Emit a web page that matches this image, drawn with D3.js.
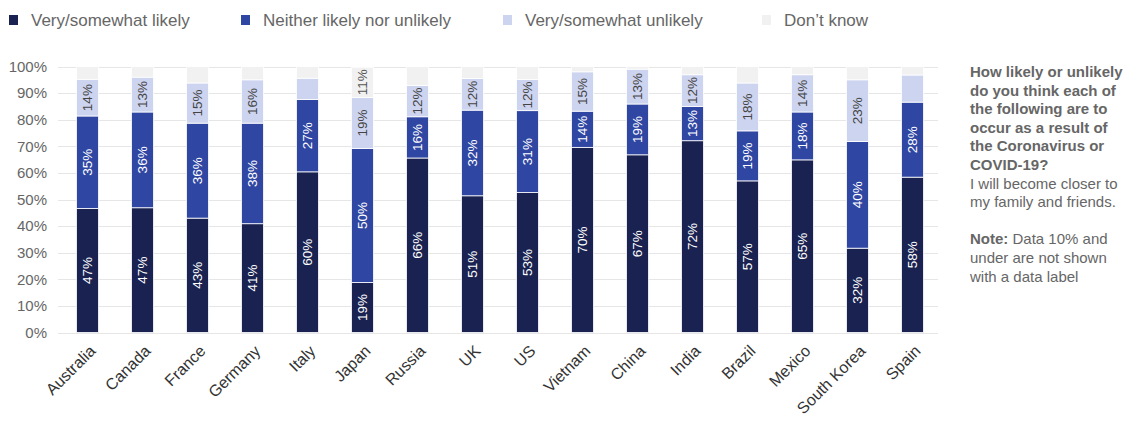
<!DOCTYPE html>
<html>
<head>
<meta charset="utf-8">
<script src="https://cdn.jsdelivr.net/npm/d3@7"></script>
<style>
  body { margin: 0; background: #fff; font-family: "Liberation Sans", Arial, sans-serif; }
  .grid line { stroke: #e6e6e6; }
  .note { fill: #666; font-size: 15px; }
</style>
</head>
<body>
<div class="chart-wrapper"></div>
<script>
var width = 1125, height = 421;

var countries = ["Australia", "Canada", "France", "Germany", "Italy", "Japan", "Russia", "UK",
  "US", "Vietnam", "China", "India", "Brazil", "Mexico", "South Korea", "Spain"];

var seriesNames = ["Very/somewhat likely", "Neither likely nor unlikely", "Very/somewhat unlikely", "Don\u2019t know"];

// values, % of respondents
var likely   = [46.6, 46.9, 43.0, 40.9, 60.4, 18.8, 65.6, 51.4, 52.6, 69.6, 66.8, 72.1, 57.0, 64.9, 31.7, 58.4];
var neither  = [34.8, 36.0, 35.7, 37.8, 27.2, 50.4, 15.5, 32.2, 30.8, 13.6, 19.1, 12.9, 18.8, 18.0, 40.1, 28.2];
var unlikely = [13.8, 13.1, 15.1, 16.3,  8.0, 19.2, 11.8, 11.9, 11.7, 14.8, 13.1, 11.9, 18.0, 14.0, 23.2, 10.2];
var dontKnow = [ 4.8,  4.0,  6.2,  5.0,  4.4, 11.3,  7.1,  4.5,  4.9,  2.0,  1.0,  3.1,  6.2,  3.1,  5.0,  3.2];

var yTicks = [0, 10, 20, 30, 40, 50, 60, 70, 80, 90, 100];

var colors = ["#1a2251", "#2f46a3", "#cdd4f0", "#f1f1f1"];
var labelColors = ["#fff", "#fff", "#444", "#555"];

var rows = countries.map(function (c, i) {
  return { country: c, s0: likely[i], s1: neither[i], s2: unlikely[i], s3: dontKnow[i] };
});

var stack = d3.stack().keys(["s0", "s1", "s2", "s3"]);
var layers = stack(rows);

var svg = d3.select(".chart-wrapper").append("svg")
  .attr("width", width)
  .attr("height", height);

var x = d3.scaleBand()
  .domain(countries)
  .range([60, 940])
  .paddingInner(0.6)
  .paddingOuter(0.3);

var y = d3.scaleLinear()
  .domain([0, 100])
  .range([332.5, 66.5]);

// gridlines
svg.append("g")
  .attr("class", "grid")
  .selectAll("line")
  .data(yTicks)
  .join("line")
  .attr("x1", 58)
  .attr("x2", 938)
  .attr("y1", function (d) { return Math.round(y(d)) + 0.5; })
  .attr("y2", function (d) { return Math.round(y(d)) + 0.5; });

// y axis labels
svg.append("g")
  .selectAll("text")
  .data(yTicks)
  .join("text")
  .attr("x", 47)
  .attr("y", function (d) { return y(d); })
  .attr("dy", "0.35em")
  .attr("text-anchor", "end")
  .attr("fill", "#666")
  .style("font-size", "15px")
  .text(function (d) { return d + "%"; });

// bars
var layer = svg.append("g")
  .selectAll("g")
  .data(layers)
  .join("g")
  .attr("fill", function (d, i) { return colors[i]; });

layer.selectAll("rect")
  .data(function (d) { return d; })
  .join("rect")
  .attr("x", function (d) { return x(d.data.country); })
  .attr("width", x.bandwidth())
  .attr("y", function (d) { return y(d[1]); })
  .attr("height", function (d) { return y(d[0]) - y(d[1]); })
  .attr("stroke", "#fff")
  .attr("stroke-width", 0.8);

// data labels, only above 10%
layers.forEach(function (l, i) {
  svg.append("g")
    .selectAll("text")
    .data(l.filter(function (d) { return Math.round(d[1] - d[0]) > 10; }))
    .join("text")
    .attr("transform", function (d) {
      var cx = x(d.data.country) + x.bandwidth() / 2;
      var cy = y((d[0] + d[1]) / 2);
      return "translate(" + cx + "," + cy + ") rotate(-90)";
    })
    .attr("text-anchor", "middle")
    .attr("dy", "0.35em")
    .attr("fill", labelColors[i])
    .style("font-size", "13.5px")
    .text(function (d) { return Math.round(d[1] - d[0]) + "%"; });
});

// x labels
svg.append("g")
  .selectAll("text")
  .data(countries)
  .join("text")
  .attr("transform", function (d) {
    return "translate(" + (x(d) + x.bandwidth() / 2 + 9) + ",352) rotate(-45)";
  })
  .attr("text-anchor", "end")
  .attr("fill", "#333")
  .style("font-size", "16px")
  .text(function (d) { return d; });

// legend
var legendX = [13, 245, 507, 766];
var legend = svg.append("g")
  .selectAll("g")
  .data(seriesNames)
  .join("g")
  .attr("transform", function (d, i) { return "translate(" + legendX[i] + ",20)"; });

legend.append("rect")
  .attr("x", -4)
  .attr("y", -5)
  .attr("width", 9)
  .attr("height", 10)
  .attr("fill", function (d, i) { return colors[i]; });

legend.append("text")
  .attr("x", 18)
  .attr("dy", "0.35em")
  .attr("fill", "#666")
  .style("font-size", "17px")
  .text(function (d) { return d; });

// side note
var noteLines = [
  { t: "How likely or unlikely", b: true },
  { t: "do you think each of", b: true },
  { t: "the following are to", b: true },
  { t: "occur as a result of", b: true },
  { t: "the Coronavirus or", b: true },
  { t: "COVID-19?", b: true },
  { t: "I will become closer to", b: false },
  { t: "my family and friends.", b: false },
  { t: "", b: false },
  { t: "Note:", b: true, rest: " Data 10% and" },
  { t: "under are not shown", b: false },
  { t: "with a data label", b: false }
];

var note = svg.append("text")
  .attr("class", "note")
  .attr("x", 970)
  .attr("y", 77);

noteLines.forEach(function (l, i) {
  note.append("tspan")
    .attr("x", 970)
    .attr("y", 77 + i * 18.6)
    .style("font-weight", l.b ? "bold" : "normal")
    .text(l.t);
  if (l.rest) {
    note.append("tspan").style("font-weight", "normal").text(l.rest);
  }
});
</script>
</body>
</html>
